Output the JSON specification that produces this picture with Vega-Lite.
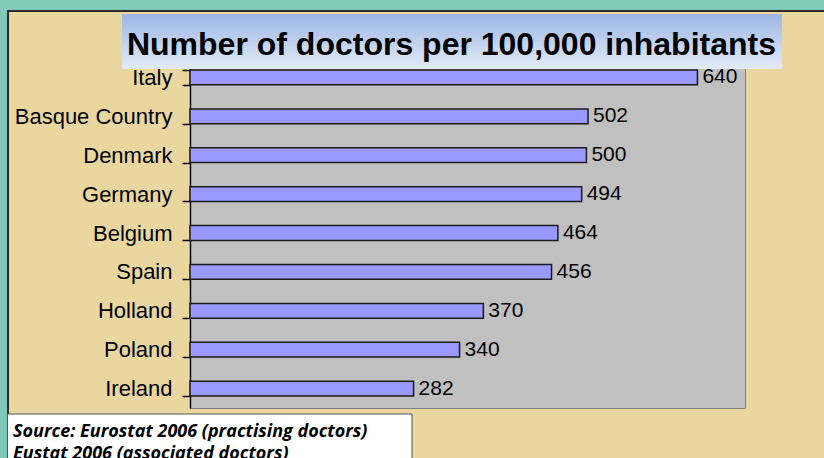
{
  "$schema": "https://vega.github.io/schema/vega-lite/v6.json",
  "width": 555,
  "height": 350,
  "autosize": {"type": "none"},
  "padding": {"left": 190, "top": 58, "right": 79, "bottom": 50},
  "background": "#ead7a0",
  "view": {"fill": "#c0c0c0", "stroke": "#808080", "strokeWidth": 1},
  "config": {"font": "Liberation Sans"},
  "layer": [
    {
      "data": {"values": [
        {"country": "Italy", "doctors": 640},
        {"country": "Basque Country", "doctors": 502},
        {"country": "Denmark", "doctors": 500},
        {"country": "Germany", "doctors": 494},
        {"country": "Belgium", "doctors": 464},
        {"country": "Spain", "doctors": 456},
        {"country": "Holland", "doctors": 370},
        {"country": "Poland", "doctors": 340},
        {"country": "Ireland", "doctors": 282}
      ]},
      "encoding": {
        "y": {"field": "country", "type": "nominal", "sort": null,
              "scale": {"paddingInner": 0.62, "paddingOuter": 0.31},
              "axis": {"title": null, "labelFont": "Liberation Sans", "labelFontSize": 22, "labelColor": "#000000",
                       "tickBand": "extent", "tickSize": 8, "tickColor": "#000000", "tickWidth": 1.5,
                       "domainColor": "#000000", "domainWidth": 1.5, "labelPadding": 10, "grid": false}},
        "x": {"field": "doctors", "type": "quantitative", "scale": {"domain": [0, 700], "nice": false}, "axis": null}
      },
      "layer": [
        {"mark": {"type": "bar", "fill": "#9999ff", "stroke": "#1a1a1a", "strokeWidth": 1.5}},
        {"mark": {"type": "text", "align": "left", "baseline": "middle", "dx": 5, "font": "Liberation Sans", "fontSize": 21, "color": "#000000"},
         "encoding": {"text": {"field": "doctors", "type": "quantitative"}}}
      ]
    },
    {
      "data": {"values": [{}]},
      "layer": [
        {"mark": {"type": "rect", "fill": "#80c8b8"},
         "encoding": {"x": {"datum": -300, "type": "quantitative", "axis": null}, "x2": {"datum": 900},
                      "y": {"datum": -70, "type": "quantitative", "scale": {"domain": [0, 350], "reverse": true, "nice": false, "zero": false}, "axis": null}, "y2": {"datum": -48}}},
        {"mark": {"type": "rect", "fill": "#80c8b8"},
         "encoding": {"x": {"datum": -300, "type": "quantitative", "axis": null}, "x2": {"datum": -230.8},
                      "y": {"datum": -70, "type": "quantitative", "axis": null}, "y2": {"datum": 500}}},
        {"mark": {"type": "rect", "fill": null, "stroke": "#2a2a2a", "strokeWidth": 2},
         "encoding": {"x": {"datum": -229.5, "type": "quantitative", "axis": null}, "x2": {"datum": 900},
                      "y": {"datum": -47, "type": "quantitative", "axis": null}, "y2": {"datum": 500}}},
        {"mark": {"type": "rect", "fill": {"gradient": "linear", "x1": 0, "y1": 0, "x2": 0, "y2": 1,
                   "stops": [{"offset": 0, "color": "#9db6e6"}, {"offset": 1, "color": "#e3ebf7"}]}},
         "encoding": {"x": {"datum": -85.8, "type": "quantitative", "axis": null}, "x2": {"datum": 746.7},
                      "y": {"datum": -44, "type": "quantitative", "axis": null}, "y2": {"datum": 11}}},
        {"mark": {"type": "text", "text": "Number of doctors per 100,000 inhabitants", "align": "center", "baseline": "alphabetic",
                  "font": "Liberation Sans", "fontWeight": "bold", "fontSize": 32, "color": "#000000"},
         "encoding": {"x": {"datum": 329.8, "type": "quantitative", "axis": null},
                      "y": {"datum": -3, "type": "quantitative", "axis": null}}},
        {"mark": {"type": "rect", "fill": "#ffffff", "stroke": "#555555", "strokeWidth": 1},
         "encoding": {"x": {"datum": -230.2, "type": "quantitative", "axis": null}, "x2": {"datum": 280},
                      "y": {"datum": 356, "type": "quantitative", "axis": null}, "y2": {"datum": 420}}},
        {"mark": {"type": "text", "text": ["Source: Eurostat 2006 (practising doctors)", "Eustat 2006 (associated doctors)"],
                  "align": "left", "baseline": "alphabetic", "lineHeight": 22,
                  "font": "Open Sans", "fontWeight": "bold", "fontStyle": "italic", "fontSize": 18, "color": "#000000"},
         "encoding": {"x": {"datum": -223.2, "type": "quantitative", "axis": null},
                      "y": {"datum": 379, "type": "quantitative", "axis": null}}}
      ]
    }
  ],
  "resolve": {"scale": {"y": "independent"}, "axis": {"y": "independent"}}
}
